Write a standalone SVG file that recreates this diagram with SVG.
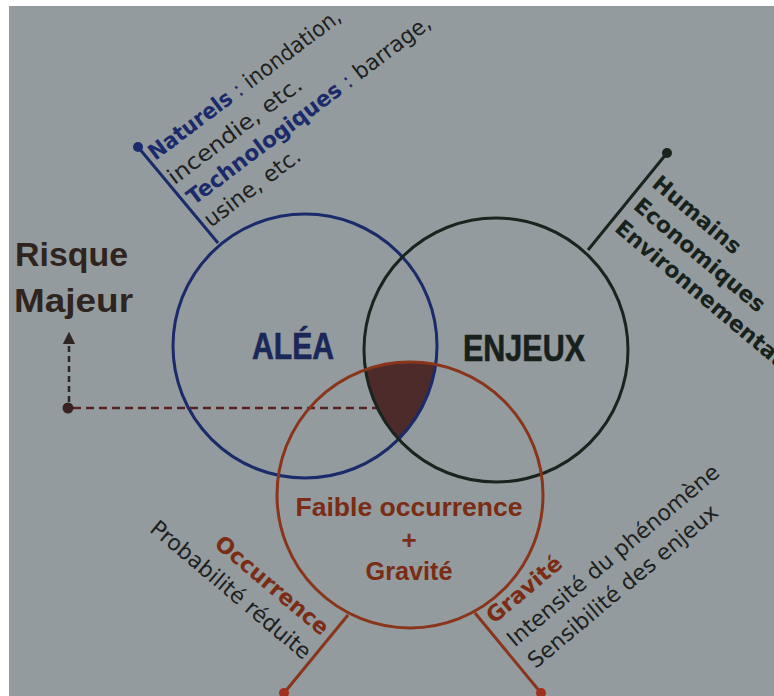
<svg xmlns="http://www.w3.org/2000/svg" width="774" height="696" viewBox="0 0 774 696">
<style>
.reg{font-family:"DejaVu Sans","Liberation Sans",sans-serif;font-size:22px;fill:#1d2121}
.bd{font-weight:bold}
.blue{fill:#1b2a6b}
.brownt{fill:#7a2c14}
.greent{fill:#18221c}
.big{font-family:"Liberation Sans",Arial,sans-serif;font-weight:bold}
.circ{fill:none;stroke-width:3}
</style>
<defs>
<clipPath id="cb"><circle cx="305" cy="346" r="132"/></clipPath>
<clipPath id="cg"><circle cx="496" cy="350" r="132"/></clipPath>
<marker id="ah" viewBox="0 0 10 10" refX="5" refY="5" markerWidth="5" markerHeight="5" orient="auto">
<path d="M0,0 L10,5 L0,10 z" fill="#2e2424"/>
</marker>
</defs>
<rect x="0" y="0" width="774" height="696" fill="#ffffff"/>
<rect x="9" y="6" width="765" height="690" fill="#939b9e"/>

<g id="intersection">
<g clip-path="url(#cb)"><g clip-path="url(#cg)"><circle cx="410" cy="495" r="133" fill="#4e2b2b"/></g></g>
</g>

<g id="connectors">
<line x1="138" y1="147" x2="218" y2="243" stroke="#1b2a6b" stroke-width="3"/>
<circle cx="138" cy="147" r="5" fill="#1b2a6b"/>
<line x1="667" y1="153" x2="588" y2="250" stroke="#1a241e" stroke-width="3"/>
<circle cx="667" cy="153" r="5" fill="#1a241e"/>
<line x1="348" y1="615" x2="284" y2="693" stroke="#8a3519" stroke-width="3"/>
<circle cx="284" cy="693" r="5" fill="#a0301e"/>
<line x1="475" y1="613" x2="541" y2="693" stroke="#8a3519" stroke-width="3"/>
<circle cx="541" cy="693" r="5" fill="#a0301e"/>
<line x1="73" y1="408" x2="385" y2="408" stroke="#5a2222" stroke-width="2.5" stroke-dasharray="8 5"/>
<line x1="69" y1="402" x2="69" y2="338" stroke="#2e2424" stroke-width="2.5" stroke-dasharray="6 4" marker-end="url(#ah)"/>
<circle cx="68" cy="408" r="5.5" fill="#3a2222"/>
</g>

<g id="alea">
<circle class="circ" cx="305" cy="346" r="132" stroke="#1b2a6b"/>
<text class="big" x="252" y="359" font-size="36" textLength="82" lengthAdjust="spacingAndGlyphs" fill="#1b2659" stroke="#1b2659" stroke-width="0.6">ALÉA</text>
</g>
<g id="enjeux">
<circle class="circ" cx="496" cy="350" r="132" stroke="#1a241e"/>
<text class="big" x="463" y="361" font-size="36" textLength="122" lengthAdjust="spacingAndGlyphs" fill="#18201c" stroke="#18201c" stroke-width="0.6">ENJEUX</text>
</g>
<g id="gravite-circle">
<circle class="circ" cx="410" cy="495" r="133" stroke="#8a3519"/>
<text class="big brownt" x="409" y="516" font-size="26" text-anchor="middle" textLength="227" lengthAdjust="spacingAndGlyphs">Faible occurrence</text>
<text class="big brownt" x="409" y="549" font-size="26" text-anchor="middle">+</text>
<text class="big brownt" x="409" y="580" font-size="26" text-anchor="middle" textLength="87" lengthAdjust="spacingAndGlyphs">Gravité</text>
</g>

<g id="risque-majeur">
<text class="big" x="15" y="266" font-size="34" fill="#30241f" textLength="113" lengthAdjust="spacingAndGlyphs">Risque</text>
<text class="big" x="14" y="312" font-size="34" fill="#30241f" textLength="119" lengthAdjust="spacingAndGlyphs">Majeur</text>
</g>

<g id="alea-labels" transform="rotate(-37)">
<text class="reg" x="27" y="222" textLength="235" lengthAdjust="spacingAndGlyphs"><tspan class="bd blue">Naturels</tspan><tspan class="blue"> : </tspan>inondation,</text>
<text class="reg" x="28" y="253" textLength="162" lengthAdjust="spacingAndGlyphs">incendie, etc.</text>
<text class="reg" x="31" y="281" textLength="299" lengthAdjust="spacingAndGlyphs"><tspan class="bd blue">Technologiques</tspan><tspan class="blue"> : </tspan>barrage,</text>
<text class="reg" x="31" y="309" textLength="115" lengthAdjust="spacingAndGlyphs">usine, etc.</text>
</g>

<g id="enjeux-labels" transform="rotate(40)">
<text class="reg bd greent" x="618" y="-276" font-size="21">Humains</text>
<text class="reg bd greent" x="618" y="-247" font-size="21">Economiques</text>
<text class="reg bd greent" x="618" y="-218" font-size="21">Environnementaux</text>
</g>

<g id="occurrence-labels" transform="rotate(40)">
<text class="reg bd brownt" x="655" y="281" text-anchor="end">Occurrence</text>
<text class="reg" x="657" y="311" text-anchor="end">Probabilité réduite</text>
</g>

<g id="gravite-labels" transform="rotate(-40)">
<text class="reg bd brownt" x="-23" y="796">Gravité</text>
<text class="reg" x="-22" y="827">Intensité du phénomène</text>
<text class="reg" x="-20" y="857">Sensibilité des enjeux</text>
</g>
</svg>
